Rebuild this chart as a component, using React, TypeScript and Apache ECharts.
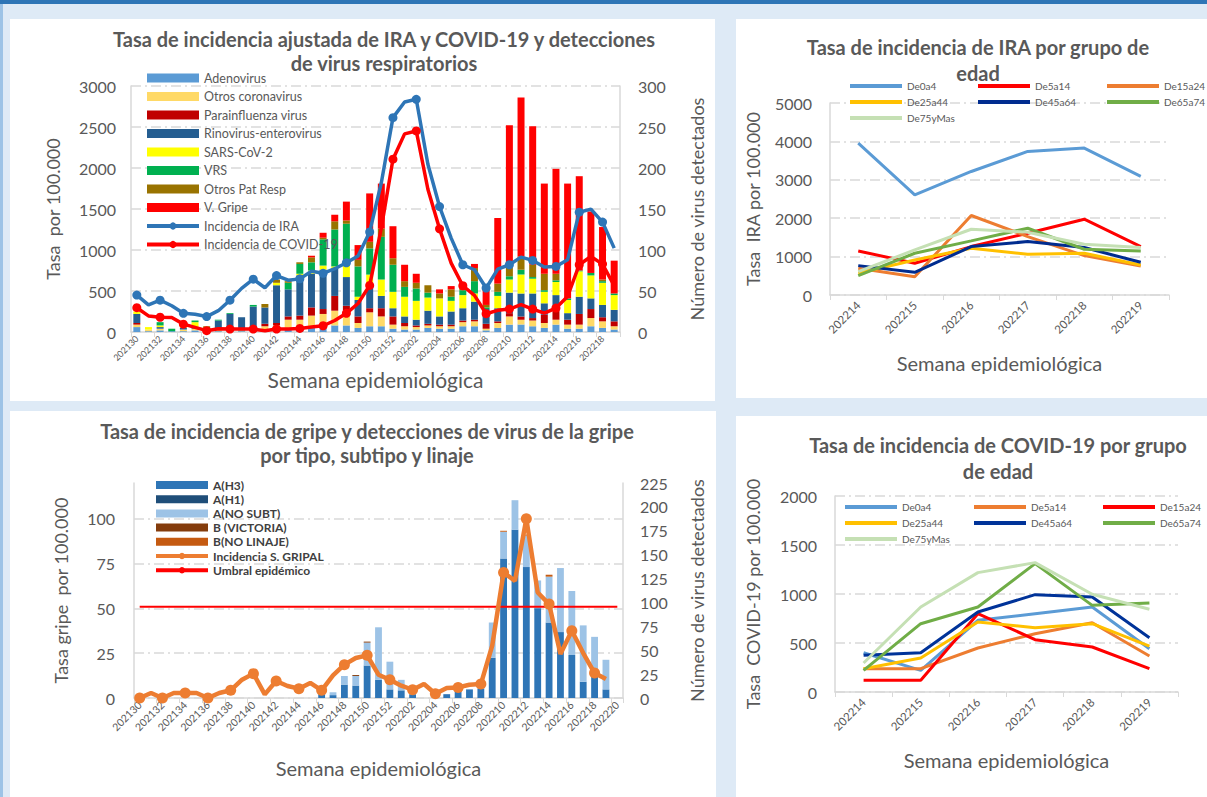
import React, { useEffect, useRef } from 'react';
import * as echarts from 'echarts';

// ---------- DATA ----------
const weeksA = ['202130','202131','202132','202133','202134','202135','202136','202137','202138','202139','202140','202141','202142','202143','202144','202145','202146','202147','202148','202149','202150','202151','202152','202201','202202','202203','202204','202205','202206','202207','202208','202209','202210','202211','202212','202213','202214','202215','202216','202217','202218','202219'];
const incIRA = [450,330,388,320,228,216,188,260,388,532,644,540,688,632,648,740,716,772,844,928,1220,1820,2614,2805,2838,2046,1530,1145,820,759,536,767,820,913,873,792,800,881,1461,1498,1340,1023];
const incCOVID = [296,196,180,176,96,56,16,40,36,36,36,16,36,36,44,60,76,140,228,348,568,1268,2107,2416,2452,1741,1258,840,564,447,223,264,280,333,280,231,292,434,820,921,828,564];
const adenovirus = [6,1,2,1,1,2,1,1,1,1,1,2,3,5,3,6,8,8,8,5,7,7,4,3,3,5,4,4,7,7,2,5,9,9,7,5,9,4,4,7,5,3];
const otrosCorona = [3,2,2,0,2,2,2,2,2,1,2,5,5,10,12,14,14,18,18,6,17,12,5,4,3,3,3,3,5,6,2,6,10,6,7,6,6,5,5,10,8,4];
const parainfluenza = [2,0,0,0,0,0,0,0,0,0,0,3,3,4,5,10,6,18,6,8,5,10,10,4,2,2,2,2,2,2,6,2,4,4,3,10,12,6,13,11,5,6];
const rinovirus = [11,0,2,0,2,2,1,11,19,16,28,20,46,33,49,41,48,33,35,20,29,15,10,8,7,16,10,16,15,22,18,16,25,28,30,14,18,8,21,13,15,14];
const sarsCov2 = [3,3,2,0,1,6,0,0,0,0,0,0,3,0,2,4,5,3,14,4,12,20,20,24,23,16,22,13,16,10,0,15,16,23,18,14,16,16,31,28,27,18];
const vrs = [0,0,4,3,0,2,0,1,1,0,2,0,0,8,12,10,32,45,51,37,32,52,33,12,15,6,0,5,6,15,2,5,4,6,2,2,2,2,1,3,2,2];
const otrosPat = [0,0,0,0,1,0,3,0,0,0,0,4,4,2,2,6,2,10,4,8,8,10,8,7,7,9,6,9,4,16,3,10,12,16,15,20,8,0,0,0,2,0];
const vGripe = [0,0,0,0,0,0,0,0,0,0,0,0,0,0,0,2,6,8,23,18,59,55,39,20,11,0,5,4,5,5,20,80,172,194,169,110,128,140,115,75,64,40];

const weeksAge = ['202214','202215','202216','202217','202218','202219'];
const iraDe0a4 = [3957,2609,3217,3739,3826,3087];
const iraDe5a14 = [1148,826,1261,1609,1974,1261];
const iraDe15a24 = [696,478,2070,1522,1026,757];
const iraDe25a44 = [565,913,1217,1061,1087,783];
const iraDe45a64 = [765,591,1261,1391,1235,852];
const iraDe65a74 = [504,1087,1409,1739,1191,1148];
const iraDe75yMas = [609,1174,1713,1635,1322,1235];

const covDe0a4 = [401,221,731,799,867,442];
const covDe5a14 = [238,238,449,595,707,367];
const covDe15a24 = [119,119,799,534,459,238];
const covDe25a44 = [238,347,714,656,697,469];
const covDe45a64 = [374,401,816,993,969,554];
const covDe65a74 = [221,697,867,1310,884,908];
const covDe75yMas = [296,867,1218,1320,997,844];

const weeksG = ['202130','202131','202132','202133','202134','202135','202136','202137','202138','202139','202140','202141','202142','202143','202144','202145','202146','202147','202148','202149','202150','202151','202152','202201','202202','202203','202204','202205','202206','202207','202208','202209','202210','202211','202212','202213','202214','202215','202216','202217','202218','202219','202220'];
const gH3 = [0,0,0,0,0,0,0,0,0,0,0,0,0,0,0,0,4,3,14,13,34,19,9,8,4,0,0,4,7,9,10,42,146,176,137,94,79,69,45,17,23,9,null];
const gH1 = [0,0,0,0,0,0,0,0,0,0,0,0,0,0,0,0,0,0,0,0,0,0,0,0,0,0,0,0,0,0,0,0,0,0,0,0,0,0,0,0,0,0,null];
const gNoSubt = [0,0,0,0,0,0,0,0,0,0,0,0,0,0,0,0,0,3,9,10,24,55,29,11,1,0,0,0,0,0,0,37,28,31,33,29,48,67,67,59,41,31,null];
const gBVictoria = [0,0,0,0,0,0,0,0,0,0,0,0,0,0,0,0,0,0,0,1,1,0,0,0,0,0,0,0,0,0,0,0,0,0,0,0,0,0,0,0,0,0,null];
const gBNoLinaje = [0,0,0,0,0,0,0,0,0,0,0,0,0,0,0,0,0,0,0,0,0,0,0,0,0,0,0,0,0,0,0,0,1,0,1,0,2,0,0,0,0,0,null];
const incGripal = [0,2.8,0,2.8,2.8,2.8,0,2.8,4.3,10.2,13.6,2,9.5,6.7,5.2,8.4,4.3,12.6,18.6,22.3,23.8,13,10.2,6.9,4.6,7.8,2.4,5.6,5.9,7.4,7.8,29.2,70,65.4,100,58.9,52.4,24.5,37.5,25.1,13.9,10.6,null];
const umbral = [51,51,51,51,51,51,51,51,51,51,51,51,51,51,51,51,51,51,51,51,51,51,51,51,51,51,51,51,51,51,51,51,51,51,51,51,51,51,51,51,51,51,51];

// ---------- STYLE ----------
const FONT = 'Lato, "Open Sans", sans-serif';
const GRAY = '#595959';
const LINEC = '#D9D9D9';
const DASH = [10, 4, 2, 4];

const titleStyle = { fontSize: 20, fontWeight: 'bold', color: GRAY, lineHeight: 24, fontFamily: FONT };
const plain = (v: number) => String(v);

const splitDash = { show: true, lineStyle: { color: LINEC, type: DASH, width: 1.5 } };
const axisLineGray = { show: true, lineStyle: { color: LINEC, width: 1.5 } };

function barSeries(name, data, color, axis, stack) {
  return { name, type: 'bar', stack, yAxisIndex: axis, data, barWidth: '60%', itemStyle: { color } };
}

const optA = {
  animation: false,
  textStyle: { fontFamily: FONT },
  title: { text: 'Tasa de incidencia ajustada de IRA y COVID-19 y detecciones\nde virus respiratorios', left: 374, top: 8, padding: 0, textAlign: 'center', textStyle: titleStyle },
  legend: {
    orient: 'vertical', left: 135, top: 52, padding: 0, itemWidth: 52, itemHeight: 9, itemGap: 4.5,
    lineStyle: { width: 4 },
    textStyle: { fontSize: 12.5, color: GRAY, lineHeight: 14, fontFamily: FONT },
    data: [
      { name: 'Adenovirus', icon: 'rect' }, { name: 'Otros coronavirus', icon: 'rect' },
      { name: 'Parainfluenza virus', icon: 'rect' }, { name: 'Rinovirus-enterovirus', icon: 'rect' },
      { name: 'SARS-CoV-2', icon: 'rect' }, { name: 'VRS', icon: 'rect' },
      { name: 'Otros Pat Resp', icon: 'rect' }, { name: 'V. Gripe', icon: 'rect' },
      'Incidencia de IRA', 'Incidencia de COVID-19',
    ],
  },
  grid: { left: 121, right: 95, top: 67, bottom: 69 },
  xAxis: {
    type: 'category', data: weeksA,
    axisLine: axisLineGray, axisTick: { show: true, lineStyle: { color: LINEC } },
    axisLabel: { interval: 1, rotate: 45, fontSize: 9, color: GRAY, margin: 5 },
    name: 'Semana epidemiológica', nameLocation: 'middle', nameGap: 34,
    nameTextStyle: { fontSize: 21, color: GRAY },
  },
  yAxis: [
    { type: 'value', min: 0, max: 3000, interval: 500, axisLine: axisLineGray, splitLine: splitDash,
      axisLabel: { fontSize: 16, color: GRAY, margin: 15, formatter: plain },
      name: 'Tasa  por 100.000', nameLocation: 'middle', nameGap: 69, nameTextStyle: { fontSize: 18, color: GRAY } },
    { type: 'value', min: 0, max: 300, interval: 50, position: 'right', axisLine: axisLineGray, splitLine: { show: false },
      axisLabel: { fontSize: 16, color: GRAY, margin: 18, formatter: plain },
      name: 'Número de virus detectados', nameLocation: 'middle', nameGap: 68, nameTextStyle: { fontSize: 18, color: GRAY } },
  ],
  series: [
    barSeries('Adenovirus', adenovirus, '#5B9BD5', 1, 'v'),
    barSeries('Otros coronavirus', otrosCorona, '#FFD966', 1, 'v'),
    barSeries('Parainfluenza virus', parainfluenza, '#C00000', 1, 'v'),
    barSeries('Rinovirus-enterovirus', rinovirus, '#255E91', 1, 'v'),
    barSeries('SARS-CoV-2', sarsCov2, '#FFFF00', 1, 'v'),
    barSeries('VRS', vrs, '#00B050', 1, 'v'),
    barSeries('Otros Pat Resp', otrosPat, '#997300', 1, 'v'),
    barSeries('V. Gripe', vGripe, '#FF0000', 1, 'v'),
    { name: 'Incidencia de IRA', type: 'line', yAxisIndex: 0, data: incIRA, symbol: 'circle', symbolSize: 9,
      lineStyle: { width: 3.5, color: '#2E75B6' }, itemStyle: { color: '#2E75B6' }, z: 5 },
    { name: 'Incidencia de COVID-19', type: 'line', yAxisIndex: 0, data: incCOVID, symbol: 'circle', symbolSize: 9,
      lineStyle: { width: 3.5, color: '#FF0000' }, itemStyle: { color: '#FF0000' }, z: 5 },
  ],
};

function ageLine(name, data, color) {
  return { name, type: 'line', data, symbol: 'none', lineStyle: { width: 3, color }, itemStyle: { color } };
}

function ageLegends(cols, tops, left) {
  const legTxt = { fontSize: 10, color: GRAY, lineHeight: 14, fontFamily: FONT };
  return cols.map((names, i) => ({
    orient: 'vertical', left: left[i], top: tops, padding: 0, itemWidth: 52, itemHeight: 4, itemGap: 2,
    textStyle: legTxt, data: names.map((n) => ({ name: n, icon: 'rect' })),
  }));
}

function ageOption(title, titleLeft, titleTop, yName, yMax, yInt, grid, legendTop, legendLefts, colsNames, series, nameGapY) {
  return {
    animation: false,
    textStyle: { fontFamily: FONT },
    title: { text: title, left: titleLeft, top: titleTop, padding: 0, textAlign: 'center', textStyle: { ...titleStyle, lineHeight: 26 } },
    legend: ageLegends(colsNames, legendTop, legendLefts),
    grid,
    xAxis: {
      type: 'category', data: weeksAge,
      axisLine: axisLineGray, axisTick: { show: true, lineStyle: { color: LINEC } },
      axisLabel: { interval: 0, rotate: 45, fontSize: 11.5, color: GRAY, margin: 8 },
      name: 'Semana epidemiológica', nameLocation: 'middle', nameGap: 58,
      nameTextStyle: { fontSize: 20, color: GRAY },
    },
    yAxis: {
      type: 'value', min: 0, max: yMax, interval: yInt, axisLine: axisLineGray, splitLine: splitDash,
      axisLabel: { fontSize: 16, color: GRAY, margin: 18, formatter: plain },
      name: yName, nameLocation: 'middle', nameGap: nameGapY, nameTextStyle: { fontSize: 18, color: GRAY },
    },
    series,
  };
}

const optB = ageOption(
  'Tasa de incidencia de IRA por grupo de\nedad', 242, 15, 'Tasa  IRA por 100.000', 5000, 1000,
  { left: 84, right: 38, top: 84, bottom: 103 }, 60, [114, 242, 371],
  [['De0a4', 'De25a44', 'De75yMas'], ['De5a14', 'De45a64'], ['De15a24', 'De65a74']],
  [
    ageLine('De0a4', iraDe0a4, '#5B9BD5'),
    ageLine('De5a14', iraDe5a14, '#FF0000'),
    ageLine('De15a24', iraDe15a24, '#ED7D31'),
    ageLine('De25a44', iraDe25a44, '#FFC000'),
    ageLine('De45a64', iraDe45a64, '#002C8F'),
    ageLine('De65a74', iraDe65a74, '#70AD47'),
    ageLine('De75yMas', iraDe75yMas, '#C5E0B4'),
  ], 68,
);

const optD = ageOption(
  'Tasa de incidencia de COVID-19 por grupo\nde edad', 262, 16, 'Tasa  COVID-19 por 100.000', 2000, 500,
  { left: 90, right: 29, top: 80, bottom: 105 }, 84, [109, 238, 367],
  [['De0a4', 'De25a44', 'De75yMas'], ['De5a14', 'De45a64'], ['De15a24', 'De65a74']],
  [
    ageLine('De0a4', covDe0a4, '#5B9BD5'),
    ageLine('De5a14', covDe5a14, '#ED7D31'),
    ageLine('De15a24', covDe15a24, '#FF0000'),
    ageLine('De25a44', covDe25a44, '#FFC000'),
    ageLine('De45a64', covDe45a64, '#003399'),
    ageLine('De65a74', covDe65a74, '#70AD47'),
    ageLine('De75yMas', covDe75yMas, '#C5E0B4'),
  ], 73,
);

const optC = {
  animation: false,
  textStyle: { fontFamily: FONT },
  title: { text: 'Tasa de incidencia de gripe y detecciones de virus de la gripe\npor tipo, subtipo y linaje', left: 357, top: 8, padding: 0, textAlign: 'center', textStyle: titleStyle },
  legend: {
    orient: 'vertical', left: 144, top: 67.5, padding: 0, itemWidth: 52, itemHeight: 8, itemGap: 1.2,
    lineStyle: { width: 4 },
    textStyle: { fontSize: 12, fontWeight: 'bold', color: '#404040', lineHeight: 13, fontFamily: FONT },
    data: [
      { name: 'A(H3)', icon: 'rect' }, { name: 'A(H1)', icon: 'rect' }, { name: 'A(NO SUBT)', icon: 'rect' },
      { name: 'B (VICTORIA)', icon: 'rect' }, { name: 'B(NO LINAJE)', icon: 'rect' },
      'Incidencia S. GRIPAL', 'Umbral epidémico',
    ],
  },
  grid: { left: 124, right: 93, top: 72, bottom: 99 },
  xAxis: {
    type: 'category', data: weeksG,
    axisLine: axisLineGray, axisTick: { show: true, lineStyle: { color: LINEC } },
    axisLabel: { interval: 1, rotate: 45, fontSize: 10.5, color: GRAY, margin: 5 },
    name: 'Semana epidemiológica', nameLocation: 'middle', nameGap: 60,
    nameTextStyle: { fontSize: 20, color: GRAY },
  },
  yAxis: [
    { type: 'value', min: 0, max: 120, interval: 25, axisLine: axisLineGray,
      splitLine: { ...splitDash, showMaxLine: false },
      axisLabel: { fontSize: 16, color: GRAY, margin: 19, showMaxLabel: false, formatter: plain },
      name: 'Tasa gripe  por 100.000', nameLocation: 'middle', nameGap: 64, nameTextStyle: { fontSize: 18, color: GRAY } },
    { type: 'value', min: 0, max: 225, interval: 25, position: 'right', axisLine: axisLineGray, splitLine: { show: false },
      axisLabel: { fontSize: 16, color: GRAY, margin: 17, formatter: plain },
      name: 'Número de virus detectados', nameLocation: 'middle', nameGap: 65, nameTextStyle: { fontSize: 18, color: GRAY } },
  ],
  series: [
    barSeries('A(H3)', gH3, '#2E75B6', 1, 'g'),
    barSeries('A(H1)', gH1, '#1F4E79', 1, 'g'),
    barSeries('A(NO SUBT)', gNoSubt, '#9DC3E6', 1, 'g'),
    barSeries('B (VICTORIA)', gBVictoria, '#843C0C', 1, 'g'),
    barSeries('B(NO LINAJE)', gBNoLinaje, '#C55A11', 1, 'g'),
    { name: 'Incidencia S. GRIPAL', type: 'line', yAxisIndex: 0, data: incGripal, symbol: 'circle', symbolSize: 11,
      lineStyle: { width: 4.5, color: '#ED7D31' }, itemStyle: { color: '#ED7D31' }, z: 5 },
    { name: 'Umbral epidémico', type: 'line', yAxisIndex: 0, data: umbral, symbol: 'none',
      lineStyle: { width: 2, color: '#FF0000' }, itemStyle: { color: '#FF0000' }, z: 4 },
  ],
};

function Chart({ option, style }: { option: any; style: React.CSSProperties }) {
  const ref = useRef<HTMLDivElement>(null);
  useEffect(() => {
    const c = echarts.init(ref.current, null, { renderer: 'svg' });
    c.setOption(option);
    return () => c.dispose();
  }, [option]);
  return <div ref={ref} style={style} />;
}

const panel = (left: number, top: number, width: number, height: number): React.CSSProperties => ({
  position: 'absolute', left, top, width, height, background: '#FFFFFF',
});

export default function App() {
  return (
    <div style={{ position: 'absolute', left: 0, top: 0, width: 1207, height: 797, background: '#DEEAF6', overflow: 'hidden' }}>
      <div style={{ position: 'absolute', left: 0, top: 0, width: 1207, height: 4, background: '#2E75B6' }} />
      <div style={{ position: 'absolute', left: 0, top: 4, width: 3, height: 793, background: '#9DC3E6' }} />
      <Chart option={optA} style={panel(10, 19, 705, 382)} />
      <Chart option={optB} style={panel(736, 19, 471, 379)} />
      <Chart option={optC} style={panel(10, 411, 706, 386)} />
      <Chart option={optD} style={panel(736, 416, 471, 381)} />
    </div>
  );
}
